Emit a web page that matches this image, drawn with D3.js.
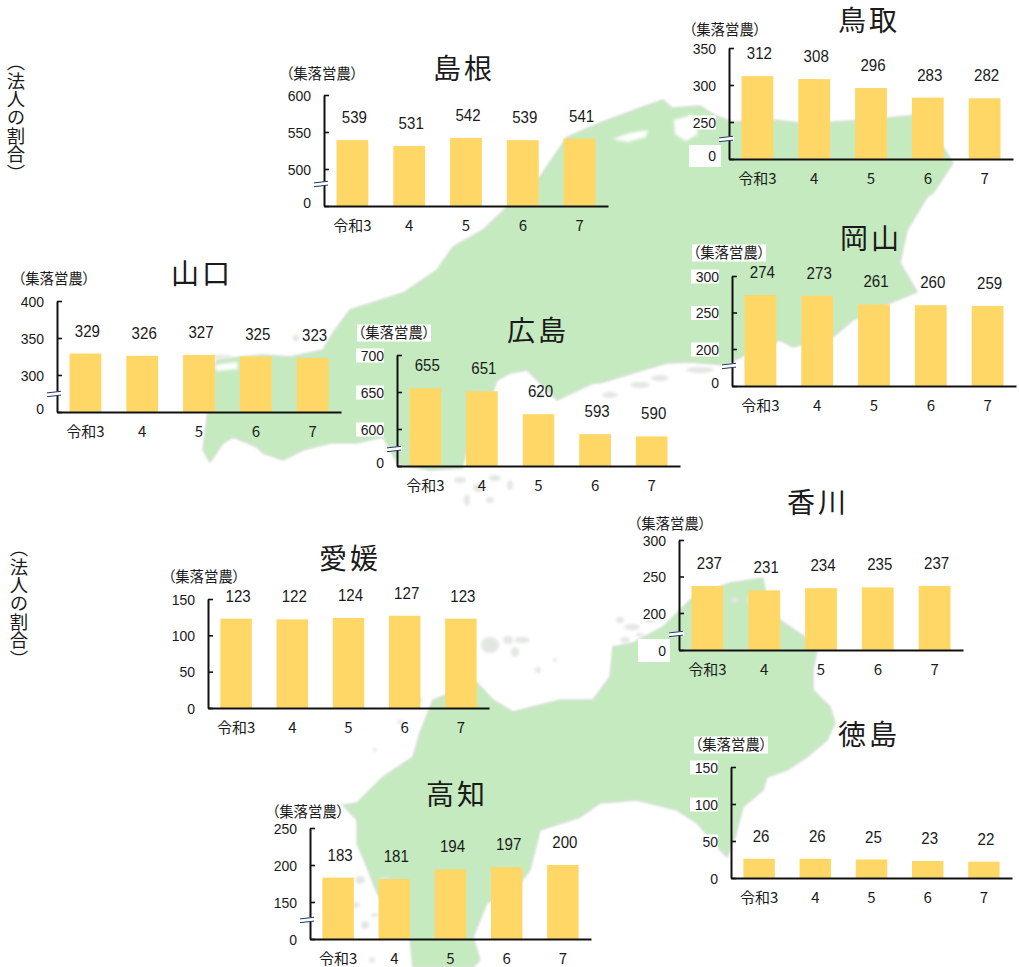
<!DOCTYPE html>
<html lang="ja">
<head>
<meta charset="utf-8">
<script src="https://cdn.jsdelivr.net/npm/d3@7"></script>
<style>
html,body{margin:0;padding:0;background:#fff}
svg{display:block}
text{fill:#1a1a1a;text-spacing-trim:space-all}
.num{font-family:"Liberation Sans",Arial,sans-serif}
.jp{font-family:"Noto Sans CJK JP","Noto Sans",sans-serif}
.unit{font-feature-settings:"palt"}
</style>
</head>
<body>
<svg id="c" width="1019" height="967"></svg>
<script>
// ---------- data ----------
const categories = ["令和3","4","5","6","7"];
const unitLabel = "（集落営農）";
const sideLabel = "（法人の割合）";

const shimaneValues  = [539,531,542,539,541];
const tottoriValues  = [312,308,296,283,282];
const okayamaValues  = [274,273,261,260,259];
const yamaguchiValues= [329,326,327,325,323];
const hiroshimaValues= [655,651,620,593,590];
const kagawaValues   = [237,231,234,235,237];
const ehimeValues    = [123,122,124,127,123];
const tokushimaValues= [26,26,25,23,22];
const kochiValues    = [183,181,194,197,200];

const shimaneTicks  = [0,500,550,600];
const tottoriTicks  = [0,250,300,350];
const okayamaTicks  = [0,200,250,300];
const yamaguchiTicks= [0,300,350,400];
const hiroshimaTicks= [0,600,650,700];
const kagawaTicks   = [0,200,250,300];
const ehimeTicks    = [0,50,100,150];
const tokushimaTicks= [0,50,100,150];
const kochiTicks    = [0,150,200,250];

// ---------- layout ----------
const panels = [
 {name:"島根",values:shimaneValues,ticks:shimaneTicks,x0:324,x1:608,base:206,low:169,top:95,brk:184,zeroUp:true,tx:464,ty:69,ux:322,uy:74},
 {name:"鳥取",values:tottoriValues,ticks:tottoriTicks,x0:729,x1:1013,base:159,low:122,top:48,brk:139,zeroUp:true,tx:869,ty:21,ux:725,uy:30,box:true,zeroBox:[689,145,32,22]},
 {name:"岡山",values:okayamaValues,ticks:okayamaTicks,x0:732,x1:1016,base:386,low:349,top:276,brk:366,zeroUp:true,tx:871,ty:239,ux:729,uy:253,box:true},
 {name:"山口",values:yamaguchiValues,ticks:yamaguchiTicks,x0:57,x1:341,base:412,low:375,top:301,brk:394,zeroUp:true,tx:202,ty:274,ux:54,uy:279},
 {name:"広島",values:hiroshimaValues,ticks:hiroshimaTicks,x0:397,x1:680,base:466,low:429,top:355,brk:449,zeroUp:true,tx:538,ty:331,ux:394,uy:333,box:true},
 {name:"香川",values:kagawaValues,ticks:kagawaTicks,x0:679,x1:963,base:650,low:613,top:540,brk:634,tx:818,ty:503,ux:670,uy:524,box:true,zeroBox:[638,639,32,23]},
 {name:"愛媛",values:ehimeValues,ticks:ehimeTicks,x0:208,x1:489,base:708,top:599,tx:350,ty:559,ux:204,uy:577},
 {name:"徳島",values:tokushimaValues,ticks:tokushimaTicks,x0:731,x1:1012,base:878,top:767,tx:869,ty:735,ux:731,uy:745,box:true},
 {name:"高知",values:kochiValues,ticks:kochiTicks,x0:310,x1:591,base:939,low:902,top:828,brk:920,tx:457,ty:795,ux:308,uy:812}
];

// ---------- background map (decorative outline, page pixels) ----------
const chugokuOutline = [[213,372],[217,360],[240,357],[262,355],[290,357],[323,350],[333,333],[350,310],[403,293],[437,270],[453,247],[483,230],[507,207],[540,177],[567,137],[600,123],[643,107],[663,100],[672,108],[700,106],[716,116],[733,122],[773,120],[800,123],[833,122],[867,120],[917,115],[943,147],[953,163],[933,193],[927,197],[907,230],[900,263],[917,292],[890,303],[853,320],[833,337],[793,347],[780,340],[745,355],[725,365],[690,362],[667,363],[633,373],[600,383],[593,383],[557,400],[527,370],[510,373],[497,380],[490,400],[470,440],[462,468],[430,470],[398,464],[383,437],[357,443],[330,443],[303,450],[283,460],[263,453],[257,447],[233,437],[223,443],[210,462],[203,450],[208,410]];
const shikokuOutline = [[343,805],[357,803],[383,777],[413,757],[420,733],[433,700],[477,683],[493,700],[513,712],[560,700],[593,700],[610,677],[613,647],[633,643],[663,627],[690,600],[703,593],[730,583],[763,578],[767,600],[780,620],[805,637],[817,650],[813,670],[813,690],[830,707],[835,723],[827,740],[807,757],[787,770],[767,777],[763,790],[743,807],[735,837],[727,857],[720,850],[697,823],[677,810],[637,800],[600,803],[580,817],[540,830],[530,870],[520,883],[487,903],[473,937],[480,960],[473,967],[413,967],[410,937],[377,893],[367,867],[357,843],[357,820]];
const lakes = [[[612,139],[630,133],[648,130],[646,137],[628,142]],[[674,120],[692,115],[698,134],[686,141],[675,134]],[[215,365],[237,362],[238,369],[216,371]]];
const islets = [[220,357,12,2],[296,338,3,3],[460,480,6,3],[478,488,5,4],[495,478,6,3],[510,485,3,5],[467,500,3,6],[490,500,4,3],[530,420,3,2],[540,395,5,3],[610,395,8,3],[640,385,10,3],[660,378,9,3],[700,370,14,3],
 [490,645,9,8],[508,640,5,4],[522,640,8,3],[515,652,4,5],[538,670,3,3],[555,660,2,2],[620,620,4,3],[632,627,8,3],[650,620,6,3],[625,640,5,3],[640,635,4,2],[735,600,4,3],[750,600,3,5],[415,700,8,3],[400,722,3,2],[375,750,2,2],[385,880,6,3],[360,880,5,4],[355,905,5,3],[365,925,4,4],[375,915,4,2],[372,960,3,3]];

// ---------- draw ----------
const svg = d3.select("#c");
const defs = svg.append("defs");
defs.append("filter").attr("id","soft").attr("x","-5%").attr("y","-5%").attr("width","110%").attr("height","110%")
  .append("feGaussianBlur").attr("stdDeviation",1.2);
defs.append("filter").attr("id","soft2").attr("x","-80%").attr("y","-80%").attr("width","260%").attr("height","260%")
  .append("feGaussianBlur").attr("stdDeviation",1.6);

const outline = d3.line().curve(d3.curveLinearClosed);
const mapG = svg.append("g");
mapG.selectAll("path.land").data([chugokuOutline,shikokuOutline]).join("path")
  .attr("class","land").attr("d",outline)
  .attr("fill","#c5eac0").attr("stroke","#d2ddd0").attr("stroke-width",1.5).attr("filter","url(#soft)");
mapG.selectAll("path.lake").data(lakes).join("path")
  .attr("class","lake").attr("d",outline).attr("fill","#fff").attr("filter","url(#soft2)");
mapG.selectAll("ellipse").data(islets).join("ellipse")
  .attr("cx",d=>d[0]).attr("cy",d=>d[1]).attr("rx",d=>d[2]).attr("ry",d=>d[3])
  .attr("fill","#e2e7e1").attr("filter","url(#soft2)");

// side labels
[[16,53],[19,539]].forEach(p=>{
  svg.append("text").attr("class","jp").attr("x",p[0]).attr("y",p[1])
    .style("writing-mode","vertical-rl").style("text-orientation","upright")
    .attr("font-size",18.4).text(sideLabel);
});

panels.forEach(p=>{
  const g = svg.append("g");
  const hi = p.ticks[p.ticks.length-1];
  let y;
  if(p.brk){
    // linear above the axis break, compressed below it
    const upper = d3.scaleLinear().domain([p.ticks[1],hi]).range([p.low,p.top]);
    y = d3.scaleLinear().domain([0,upper.invert(p.brk),hi]).range([p.base,p.brk,p.top]);
  } else {
    y = d3.scaleLinear().domain([0,hi]).range([p.base,p.top]);
  }
  const x = d3.scaleBand().domain(categories).range([p.x0,p.x1]).paddingInner(0.44).paddingOuter(0.22);

  if(p.box){
    g.selectAll("rect.box").data(p.ticks.filter(t=>t>0)).join("rect").attr("class","box")
      .attr("x",p.x0-41).attr("y",d=>y(d)-6.5).attr("width",28).attr("height",14).attr("fill","#fff");
    g.append("rect").attr("x",p.ux-37).attr("y",p.uy-8.5).attr("width",74).attr("height",17).attr("fill","#fff");
  }
  if(p.zeroBox){
    g.append("rect").attr("x",p.zeroBox[0]).attr("y",p.zeroBox[1]).attr("width",p.zeroBox[2]).attr("height",p.zeroBox[3]).attr("fill","#fff");
  }

  // unit label
  g.append("text").attr("class","jp unit").attr("x",p.ux).attr("y",p.uy).attr("dy","0.36em")
    .attr("text-anchor","middle").attr("font-size",14.4).text(unitLabel);

  // title
  g.append("text").attr("class","jp").attr("x",p.tx).attr("y",p.ty).attr("dy","0.36em")
    .attr("text-anchor","middle").attr("font-size",28).attr("letter-spacing",3).text(p.name);

  // bars
  g.selectAll("rect.bar").data(p.values).join("rect").attr("class","bar")
    .attr("x",(d,i)=>x(categories[i])).attr("width",x.bandwidth())
    .attr("y",d=>y(d)).attr("height",d=>p.base-y(d)).attr("fill","#ffd766");

  // value labels
  g.selectAll("text.val").data(p.values).join("text").attr("class","val num")
    .attr("transform",(d,i)=>`translate(${x(categories[i])+x.bandwidth()/2+2},${y(d)-17}) scale(0.92,1)`)
    .attr("text-anchor","middle").attr("font-size",16.4).text(d=>d);

  // axes
  const yAxis = d3.axisLeft(y).tickValues(p.ticks).tickSize(-5).tickSizeOuter(0).tickPadding(13).tickFormat(d3.format("d"));
  const yg = g.append("g").attr("transform",`translate(${p.x0},0)`).call(yAxis);
  yg.select(".domain").attr("stroke","#111").attr("stroke-width",2);
  yg.selectAll(".tick line").attr("stroke","#111").attr("stroke-width",1.6);
  yg.selectAll(".tick text").attr("class","num").attr("font-size",14).attr("fill","#1a1a1a")
    .attr("dy",d=> (d===0 && p.zeroUp) ? "0.14em" : "0.38em")
    .attr("font-family",null);

  const xAxis = d3.axisBottom(x).tickSize(0).tickSizeOuter(0).tickPadding(14);
  const xg = g.append("g").attr("transform",`translate(0,${p.base})`).call(xAxis);
  xg.select(".domain").attr("stroke","#111").attr("stroke-width",2);
  xg.selectAll(".tick text").attr("class","jp").attr("font-size",15).attr("fill","#1a1a1a").attr("font-family",null);

  // axis break mark
  if(p.brk){
    const b = g.append("g").attr("transform",`translate(${p.x0},${p.brk})`);
    b.append("line").attr("x1",-10).attr("x2",5).attr("y1",0.8).attr("y2",-0.8).attr("stroke","#fff").attr("stroke-width",4.5);
    [-1.9,1.9].forEach(o=>{
      b.append("line").attr("x1",-10).attr("x2",4).attr("y1",o+0.8).attr("y2",o-0.8).attr("stroke","#1f3864").attr("stroke-width",1);
    });
  }
});
</script>
</body>
</html>
